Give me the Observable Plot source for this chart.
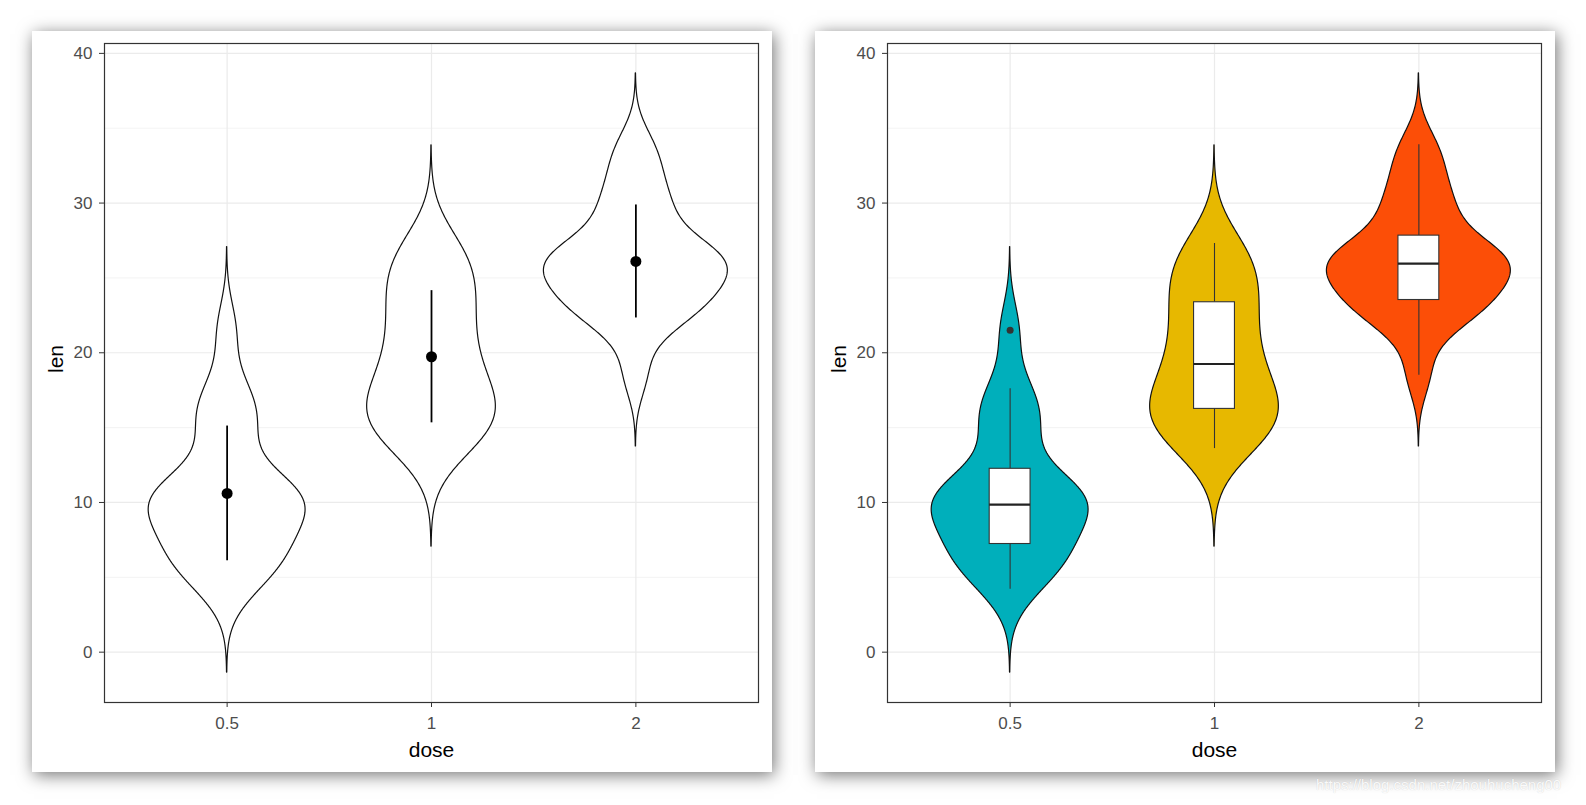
<!DOCTYPE html>
<html>
<head>
<meta charset="utf-8">
<script src="https://cdn.jsdelivr.net/npm/d3@7"></script>
<script src="https://cdn.jsdelivr.net/npm/@observablehq/plot@0.6"></script>
<style>
  html, body { margin: 0; padding: 0; background: #ffffff; }
  body { width: 1586px; height: 805px; position: relative; overflow: hidden; font-family: "Liberation Sans", Arial, sans-serif; }
  .card { position: absolute; background: #fff; box-shadow: 2px 3px 16px rgba(0,0,0,0.55); }
  .card svg { display: block; }
  #wm { position: absolute; left: 1316px; top: 776px; font-size: 15px; color: rgba(255,255,255,0.92);
        text-shadow: 0 0 1px rgba(0,0,0,0.18); white-space: nowrap; }
</style>
</head>
<body>
<div id="c1" class="card" style="left:32px;top:31px;width:740px;height:741px"></div>
<div id="c2" class="card" style="left:815px;top:31px;width:740px;height:741px"></div>
<div id="wm">https://blog.csdn.net/zhouhucheng00</div>
<script>
// ToothGrowth: len by dose
const doseLabels = ["0.5", "1", "2"];
const lenDose05 = [4.2, 11.5, 7.3, 5.8, 6.4, 10, 11.2, 11.2, 5.2, 7, 15.2, 21.5, 17.6, 9.7, 14.5, 10, 8.2, 9.4, 16.5, 9.7];
const lenDose1 = [16.5, 16.5, 15.2, 17.3, 22.5, 17.3, 13.6, 14.5, 18.8, 15.5, 19.7, 23.3, 23.6, 26.4, 20, 25.2, 25.8, 21.2, 14.5, 27.3];
const lenDose2 = [23.6, 18.5, 33.9, 25.5, 26.4, 32.5, 26.7, 21.5, 23.3, 29.5, 25.5, 26.4, 22.4, 24.5, 24.8, 30.9, 26.4, 27.3, 29.4, 23];
const fillColors = ["#00AFBB", "#E7B800", "#FC4E07"];
const yTicks = [0, 10, 20, 30, 40];
const yMinorTicks = [5, 15, 25, 35];

const groups = [lenDose05, lenDose1, lenDose2];

// Gaussian KDE with bw.nrd0, trim = FALSE (extends 3 bandwidths)
function kde(values) {
  const s = values.slice().sort(d3.ascending);
  const n = s.length;
  const sd = d3.deviation(s);
  const iqr = d3.quantile(s, 0.75) - d3.quantile(s, 0.25);
  const bw = 0.9 * Math.min(sd, iqr / 1.34) * Math.pow(n, -0.2);
  const lo = s[0] - 3 * bw, hi = s[n - 1] + 3 * bw;
  const out = [];
  const N = 512;
  for (let i = 0; i < N; i++) {
    const y = lo + (hi - lo) * i / (N - 1);
    let d = 0;
    for (const v of s) { const z = (y - v) / bw; d += Math.exp(-0.5 * z * z); }
    d /= n * bw * Math.sqrt(2 * Math.PI);
    out.push({y, d});
  }
  return out;
}

const dens = groups.map(kde);
const maxD = d3.max(dens, g => d3.max(g, p => p.d));
const violinRows = [];
dens.forEach((g, i) => {
  g.forEach(p => {
    const hw = 0.45 * p.d / maxD;
    violinRows.push({dose: doseLabels[i], pos: i + 1, y: p.y, x1: i + 1 - hw, x2: i + 1 + hw, fill: fillColors[i]});
  });
});

const summary = groups.map((g, i) => {
  const m = d3.mean(g), sd = d3.deviation(g);
  return {pos: i + 1, mean: m, lo: m - sd, hi: m + sd};
});

const boxes = groups.map((g, i) => {
  const s = g.slice().sort(d3.ascending);
  const q1 = d3.quantile(s, 0.25), med = d3.quantile(s, 0.5), q3 = d3.quantile(s, 0.75);
  const iqr = q3 - q1;
  const inside = s.filter(v => v >= q1 - 1.5 * iqr && v <= q3 + 1.5 * iqr);
  const outl = s.filter(v => v < q1 - 1.5 * iqr || v > q3 + 1.5 * iqr);
  return {pos: i + 1, q1, med, q3, wlo: d3.min(inside), whi: d3.max(inside), outliers: outl};
});
const outliers = boxes.flatMap(b => b.outliers.map(v => ({pos: b.pos, v})));

// y range: data range of violins, expanded 5%
const yLo = d3.min(violinRows, d => d.y), yHi = d3.max(violinRows, d => d.y);
const yPad = (yHi - yLo) * 0.05;

function basePlot(extraMarks, filled) {
  return Plot.plot({
    width: 740,
    height: 741,
    marginLeft: 72,
    marginRight: 14,
    marginTop: 12,
    marginBottom: 70,
    style: {fontFamily: "'Liberation Sans', Arial, sans-serif", fontSize: "17px", color: "#4D4D4D", background: "#fff", overflow: "visible"},
    x: {domain: [0.4, 3.6]},
    y: {domain: [yLo - yPad, yHi + yPad]},
    marks: [
      Plot.gridY(yMinorTicks, {stroke: "#EBEBEB", strokeOpacity: 1, strokeWidth: 0.6}),
      Plot.gridY(yTicks, {stroke: "#EBEBEB", strokeOpacity: 1, strokeWidth: 1.2}),
      Plot.gridX([1, 2, 3], {stroke: "#EBEBEB", strokeOpacity: 1, strokeWidth: 1.2}),
      Plot.areaX(violinRows, {
        y: "y", x1: "x1", x2: "x2", z: "dose",
        fill: filled ? (d => d.fill) : "white",
        stroke: "#111", strokeWidth: 1.2
      }),
      ...extraMarks,
      Plot.frame({stroke: "#333", strokeWidth: 1.2}),
      Plot.axisX({ticks: [1, 2, 3], tickFormat: d => doseLabels[d - 1], tickSize: 5, tickPadding: 9, stroke: "#333", label: null}),
      Plot.axisY({ticks: yTicks, tickSize: 5, tickPadding: 7, stroke: "#333", label: null}),
      Plot.text(["dose"], {text: d => d, frameAnchor: "bottom", dy: 47.5, fontSize: 21, fill: "#000", lineAnchor: "middle"}),
      Plot.text(["len"], {text: d => d, frameAnchor: "left", dx: -48, rotate: -90, fontSize: 21, fill: "#000", lineAnchor: "middle"})
    ]
  });
}

const left = basePlot([
  Plot.ruleX(summary, {x: "pos", y1: "lo", y2: "hi", stroke: "#000", strokeWidth: 1.8}),
  Plot.dot(summary, {x: "pos", y: "mean", r: 5.5, fill: "#000", stroke: null})
], false);

const right = basePlot([
  Plot.ruleX(boxes, {x: "pos", y1: "wlo", y2: "q1", stroke: "#333", strokeWidth: 1.1}),
  Plot.ruleX(boxes, {x: "pos", y1: "q3", y2: "whi", stroke: "#333", strokeWidth: 1.1}),
  Plot.rect(boxes, {x1: d => d.pos - 0.1, x2: d => d.pos + 0.1, y1: "q1", y2: "q3", fill: "white", stroke: "#333", strokeWidth: 1.1}),
  Plot.ruleY(boxes, {y: "med", x1: d => d.pos - 0.1, x2: d => d.pos + 0.1, stroke: "#222", strokeWidth: 2.2}),
  Plot.dot(outliers, {x: "pos", y: "v", r: 3.5, fill: "#333", stroke: null})
], true);

document.getElementById("c1").appendChild(left);
document.getElementById("c2").appendChild(right);
</script>
</body>
</html>
